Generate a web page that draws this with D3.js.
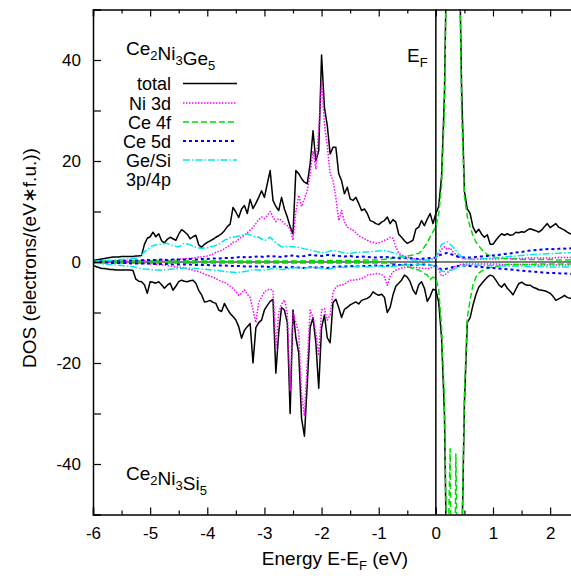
<!DOCTYPE html>
<html>
<head>
<meta charset="utf-8">
<script src="https://cdn.jsdelivr.net/npm/d3@7"></script>
<style>
  body { margin: 0; background: #fff; }
  svg { font-family: "Liberation Sans", Arial, sans-serif; }
</style>
</head>
<body>
<div id="chart"></div>
<script>
// energy grids (eV): fine 0.05 step for total / Ni 3d / Ce 4f, coarse 0.1 step for Ce 5d / Ge-Si p
const energyFine = d3.range(169).map(i => +(-6 + i * 0.05).toFixed(2));
const energyCoarse = d3.range(85).map(i => +(-6 + i * 0.1).toFixed(1));

// Ce2Ni3Ge5 (upper half)
const totalGe = [
  0.3,0.4,0.5,0.6,0.7,0.8,0.9,1.0,1.0,1.0,
  1.1,1.1,1.1,1.1,1.1,1.2,1.2,1.3,3.5,4.7,
  5.0,5.9,5.0,5.6,4.2,3.8,4.5,4.9,4.6,4.3,
  5.5,6.4,6.0,5.5,4.6,5.0,5.3,3.4,2.9,3.5,
  3.9,4.2,4.5,4.9,5.2,5.6,6.2,7.0,7.5,10.8,
  9.9,8.8,10.5,11.2,9.6,12.4,10.6,11.6,12.8,14.1,
  12.8,15.5,18.1,12.2,11.0,10.2,12.8,10.5,8.9,7.0,
  5.6,18.1,17.5,16.5,15.8,15.5,19.4,26.0,20.0,22.0,
  41.0,30.6,27.0,21.4,22.7,22.7,17.5,16.1,13.5,14.8,
  12.5,12.2,12.8,11.6,10.2,10.5,9.6,8.2,8.0,7.6,
  7.4,7.9,8.2,8.9,7.6,8.4,7.9,5.5,4.9,4.2,
  3.7,4.0,4.3,6.5,6.9,8.2,7.2,8.5,9.6,7.6,
  9.6,11.0,17.0,33.0,70,100,110,100,70,35,
  14.0,10.5,9.6,6.9,5.8,6.5,5.5,4.9,5.4,3.5,
  3.5,4.3,5.0,5.6,5.3,5.6,5.3,5.4,5.9,5.8,
  6.0,5.9,6.3,6.6,6.4,6.2,5.9,6.3,7.0,7.6,
  6.8,7.2,7.6,6.9,6.6,6.3,5.9,5.6,5.6
];
const ni3dGe = [
  0.0,0.0,0.1,0.1,0.1,0.1,0.1,0.1,0.1,0.1,
  0.2,0.2,0.2,0.2,0.2,0.2,0.3,0.3,0.3,0.3,
  0.3,0.3,0.4,0.3,0.4,0.4,0.3,0.4,0.5,0.4,
  0.5,0.6,0.6,0.7,0.7,0.8,0.9,1.0,1.0,1.1,
  1.2,1.4,1.6,1.9,2.1,2.3,2.6,3.0,3.4,3.9,
  4.0,4.5,5.0,5.2,5.8,6.3,6.9,7.6,8.4,8.9,
  8.6,9.2,10.0,8.9,8.0,8.6,8.2,7.6,7.2,6.5,
  4.3,10.0,13.2,11.0,12.5,14.1,17.5,22.0,18.5,26.0,
  35.8,27.3,23.0,17.5,16.1,12.8,8.2,10.2,8.0,6.9,
  6.6,6.3,5.8,5.2,4.9,4.6,4.3,4.0,3.9,3.7,
  3.8,4.0,4.3,4.5,4.9,4.7,3.0,1.7,1.4,1.2,
  1.0,0.8,0.7,0.5,0.5,0.5,0.4,0.4,0.5,0.6,
  0.8,1.5,2.5,3.0,2.5,2.8,2.0,1.5,1.0,0.8,
  0.7,0.6,0.6,0.6,0.6,0.6,0.6,0.6,0.6,0.6,
  0.6,0.6,0.6,0.7,0.7,0.7,0.7,0.7,0.7,0.7,
  0.7,0.7,0.8,0.8,0.8,0.8,0.8,0.8,0.8,0.8,
  0.8,0.8,0.9,0.9,0.9,0.9,0.9,0.9,0.9
];
const ce4fGe = [
  0.2,0.2,0.2,0.2,0.2,0.2,0.2,0.2,0.2,0.2,
  0.2,0.2,0.2,0.2,0.2,0.2,0.2,0.2,0.2,0.2,
  0.2,0.2,0.2,0.2,0.2,0.2,0.2,0.2,0.2,0.2,
  0.2,0.2,0.2,0.2,0.2,0.2,0.2,0.2,0.2,0.2,
  0.2,0.2,0.2,0.2,0.2,0.2,0.2,0.2,0.2,0.2,
  0.2,0.2,0.2,0.2,0.2,0.2,0.2,0.2,0.2,0.2,
  0.2,0.2,0.2,0.2,0.2,0.2,0.2,0.2,0.2,0.2,
  0.2,0.2,0.2,0.2,0.2,0.3,0.3,0.3,0.3,0.3,
  0.3,0.3,0.3,0.3,0.3,0.3,0.3,0.3,0.3,0.3,
  0.3,0.3,0.3,0.3,0.3,0.4,0.4,0.4,0.4,0.4,
  0.4,0.5,0.5,0.6,0.7,0.8,0.9,1.0,1.0,1.1,
  1.2,1.3,1.4,1.6,1.7,2.2,3.0,3.8,5.0,6.0,
  7.0,9.5,15.0,30.0,70,100,110,100,70,30,
  13.0,9.0,7.0,5.2,4.0,3.2,2.5,2.0,1.5,1.2,
  1.0,0.9,0.8,0.8,0.7,0.7,0.6,0.6,0.6,0.5,
  0.5,0.5,0.5,0.5,0.5,0.5,0.5,0.5,0.5,0.5,
  0.5,0.5,0.4,0.4,0.4,0.4,0.4,0.4,0.4
];
const ce5dGe = [
  0.1,0.1,0.2,0.2,0.2,0.2,0.3,0.3,0.3,0.4,
  0.4,0.4,0.5,0.4,0.5,0.5,0.5,0.6,0.5,0.6,
  0.6,0.7,0.7,0.8,0.8,0.9,1.0,0.9,1.0,1.1,
  1.0,1.2,1.1,1.0,1.2,1.3,1.1,1.2,1.4,1.3,
  1.2,1.4,1.3,1.2,1.1,1.2,1.0,1.1,1.0,0.9,
  0.9,1.0,0.9,0.8,0.7,0.8,0.7,0.6,0.7,0.8,
  0.9,1.5,1.8,1.4,1.0,0.9,0.9,1.0,1.1,1.2,
  1.3,1.4,1.6,1.7,1.9,2.0,2.2,2.3,2.4,2.5,
  2.6,2.5,2.7,2.6,2.8
];
const gepGe = [
  0.1,0.2,0.3,0.3,0.4,0.5,0.6,0.7,0.8,2.0,
  3.0,3.4,3.6,3.7,3.2,3.0,3.7,3.4,2.9,2.7,
  2.8,3.1,3.5,4.3,4.8,5.0,5.3,5.6,5.1,4.9,
  4.2,4.9,3.8,3.0,3.1,3.0,2.9,2.6,2.4,2.1,
  1.8,2.0,2.3,2.1,1.8,1.7,1.9,2.0,2.0,2.1,
  2.2,2.3,2.0,1.7,1.2,0.5,0.4,0.3,0.2,0.3,
  0.8,3.5,4.0,3.0,1.5,0.6,0.5,0.5,0.6,0.7,
  0.8,0.9,1.0,1.1,1.2,1.3,1.4,1.5,1.5,1.6,
  1.7,1.7,1.8,1.8,1.9
];

// Ce2Ni3Si5 (lower half, plotted negative)
const totalSi = [
  -0.7,-0.9,-1.1,-1.3,-1.3,-1.4,-1.5,-1.5,-1.6,-1.6,
  -1.6,-1.6,-1.6,-1.6,-1.7,-3.4,-3.8,-3.9,-4.5,-6.2,
  -3.9,-4.0,-4.2,-3.9,-4.5,-5.2,-4.6,-4.2,-5.6,-4.8,
  -3.9,-3.6,-3.8,-3.9,-3.7,-3.6,-4.2,-5.6,-6.5,-7.9,
  -7.8,-7.6,-8.0,-8.2,-9.5,-9.8,-8.2,-9.3,-10.2,-10.8,
  -11.5,-12.8,-15.1,-13.5,-12.8,-12.2,-20.0,-13.0,-12.0,-11.5,
  -9.5,-8.6,-7.8,-7.4,-22.0,-14.0,-9.0,-9.5,-12.0,-30.0,
  -9.5,-15.0,-18.0,-31.0,-34.5,-24.0,-13.0,-11.0,-16.0,-25.0,
  -13.0,-10.5,-15.0,-16.0,-8.0,-7.4,-9.0,-11.0,-9.4,-9.0,
  -8.5,-8.2,-7.9,-8.3,-7.6,-7.4,-7.2,-6.8,-5.9,-6.3,
  -6.6,-6.4,-7.0,-10.0,-9.0,-6.5,-4.8,-4.2,-3.6,-2.6,
  -3.0,-3.9,-5.5,-6.4,-4.5,-3.9,-5.2,-7.8,-6.8,-5.4,
  -5.6,-8.0,-15.0,-30.0,-70,-100,-110,-100,-80,-60,
  -28.0,-12.0,-11.0,-8.5,-6.5,-5.0,-4.3,-3.6,-3.0,-2.6,
  -2.8,-3.6,-4.5,-5.0,-4.3,-5.2,-5.8,-6.5,-5.4,-4.3,
  -4.0,-4.4,-4.6,-4.6,-5.0,-5.2,-5.5,-5.6,-5.7,-5.9,
  -6.2,-6.8,-7.6,-7.3,-7.0,-6.6,-7.0,-7.2,-7.2
];
const ni3dSi = [
  0.0,0.0,-0.1,-0.1,-0.1,-0.1,-0.1,-0.1,-0.1,-0.1,
  -0.2,-0.2,-0.2,-0.2,-0.2,-0.2,-0.3,-0.3,-0.3,-0.3,
  -0.4,-0.4,-0.5,-0.5,-0.6,-0.6,-0.7,-0.8,-0.9,-1.0,
  -1.0,-1.1,-1.2,-1.4,-1.5,-1.6,-1.8,-1.9,-2.1,-2.4,
  -2.6,-2.8,-3.0,-3.3,-3.6,-3.9,-4.0,-4.4,-4.8,-5.2,
  -5.9,-6.6,-6.2,-5.5,-6.4,-7.0,-9.5,-12.0,-7.9,-7.0,
  -5.9,-5.5,-5.4,-5.6,-17.0,-10.0,-8.3,-7.5,-10.0,-25.5,
  -10.0,-12.0,-14.0,-26.3,-30.5,-20.0,-9.5,-11.0,-14.0,-18.5,
  -9.5,-9.2,-11.5,-10.5,-6.0,-5.0,-4.6,-4.6,-4.4,-4.0,
  -3.6,-3.6,-3.5,-3.4,-3.3,-3.0,-2.6,-2.5,-2.4,-2.3,
  -2.3,-2.5,-3.0,-4.6,-2.8,-2.0,-1.6,-1.4,-1.2,-1.1,
  -1.0,-1.0,-1.1,-1.1,-1.2,-1.2,-1.3,-1.3,-1.2,-1.0,
  -0.8,-1.5,-2.8,-2.6,-2.2,-1.6,-1.1,-0.8,-0.6,-0.5,
  -0.4,-0.4,-0.4,-0.4,-0.4,-0.4,-0.4,-0.4,-0.4,-0.4,
  -0.4,-0.4,-0.4,-0.5,-0.5,-0.5,-0.5,-0.5,-0.5,-0.5,
  -0.5,-0.5,-0.5,-0.5,-0.5,-0.6,-0.6,-0.6,-0.6,-0.6,
  -0.6,-0.6,-0.6,-0.6,-0.6,-0.6,-0.6,-0.6,-0.6
];
const ce4fSi = [
  -0.2,-0.2,-0.2,-0.2,-0.2,-0.2,-0.2,-0.2,-0.2,-0.2,
  -0.2,-0.2,-0.2,-0.2,-0.2,-0.2,-0.2,-0.2,-0.2,-0.2,
  -0.2,-0.2,-0.2,-0.2,-0.2,-0.2,-0.2,-0.2,-0.2,-0.2,
  -0.2,-0.2,-0.2,-0.2,-0.2,-0.2,-0.2,-0.2,-0.2,-0.2,
  -0.2,-0.2,-0.2,-0.2,-0.2,-0.2,-0.2,-0.2,-0.2,-0.2,
  -0.2,-0.2,-0.2,-0.2,-0.2,-0.2,-0.2,-0.2,-0.2,-0.2,
  -0.2,-0.2,-0.2,-0.2,-0.2,-0.2,-0.2,-0.2,-0.2,-0.2,
  -0.2,-0.2,-0.2,-0.2,-0.2,-0.2,-0.2,-0.2,-0.2,-0.2,
  -0.2,-0.2,-0.2,-0.2,-0.2,-0.2,-0.2,-0.2,-0.2,-0.2,
  -0.2,-0.2,-0.2,-0.2,-0.2,-0.2,-0.2,-0.2,-0.2,-0.2,
  -0.2,-0.2,-0.2,-0.2,-0.3,-0.3,-0.4,-0.5,-0.6,-0.7,
  -0.9,-1.1,-1.3,-1.5,-1.6,-1.9,-2.3,-2.6,-3.5,-3.0,
  -3.2,-5.5,-13.0,-27.0,-65,-37,-110,-38,-80,-58,
  -26.0,-11.0,-7.5,-4.5,-3.0,-2.2,-1.8,-1.5,-1.3,-1.1,
  -1.0,-0.9,-0.8,-0.7,-0.6,-0.5,-0.5,-0.5,-0.5,-0.5,
  -0.5,-0.5,-0.5,-0.5,-0.5,-0.4,-0.4,-0.4,-0.4,-0.4,
  -0.4,-0.4,-0.4,-0.4,-0.4,-0.4,-0.4,-0.4,-0.4
];
const ce5dSi = [
  -0.1,-0.1,-0.1,-0.2,-0.2,-0.2,-0.2,-0.3,-0.3,-0.3,
  -0.3,-0.4,-0.4,-0.4,-0.5,-0.5,-0.5,-0.5,-0.6,-0.6,
  -0.6,-0.7,-0.7,-0.7,-0.8,-0.8,-0.8,-0.9,-0.9,-0.9,
  -0.9,-1.0,-0.9,-1.0,-1.1,-1.0,-1.1,-1.2,-1.0,-1.1,
  -1.0,-1.2,-1.0,-0.9,-0.9,-0.8,-0.9,-0.8,-0.8,-0.7,
  -0.7,-0.8,-0.7,-0.6,-0.6,-0.5,-0.6,-0.5,-0.5,-0.6,
  -0.8,-1.5,-1.3,-1.0,-0.8,-0.7,-0.8,-0.9,-1.0,-1.1,
  -1.2,-1.3,-1.4,-1.5,-1.6,-1.7,-1.8,-1.9,-2.0,-2.1,
  -2.2,-2.2,-2.3,-2.3,-2.4
];
const sipSi = [
  -0.2,-0.3,-0.4,-0.5,-0.6,-0.7,-0.8,-0.9,-1.2,-1.4,
  -1.5,-1.6,-1.6,-1.5,-1.4,-1.3,-1.2,-1.2,-1.3,-1.4,
  -1.5,-1.6,-1.7,-1.9,-2.0,-2.1,-2.0,-1.8,-1.5,-1.6,
  -1.6,-1.4,-1.3,-1.5,-1.4,-1.2,-1.1,-1.3,-1.0,-1.1,
  -1.2,-1.5,-1.2,-1.0,-1.1,-1.0,-0.9,-0.9,-1.0,-0.9,
  -0.8,-1.0,-0.9,-0.8,-0.7,-0.6,-0.5,-0.5,-0.5,-0.6,
  -0.8,-1.8,-2.0,-1.5,-1.0,-0.7,-0.6,-0.6,-0.7,-0.7,
  -0.7,-0.7,-0.8,-0.8,-0.8,-0.8,-0.9,-0.9,-0.9,-0.9,
  -1.0,-1.0,-1.0,-1.0,-1.0
];

const legendLabels = ["total", "Ni 3d", "Ce 4f", "Ce 5d", "Ge/Si"];
const xTicks = [-6, -5, -4, -3, -2, -1, 0, 1, 2];
const yTicks = [-40, -20, 0, 20, 40];

const size = { width: 571, height: 576, left: 93, right: 573, top: 9.5, bottom: 514.5 };

const styles = [
  { color: "#000000", dash: null, width: 1.5 },
  { color: "#ff00ff", dash: "1.5,1.5", width: 1.5 },
  { color: "#00dd00", dash: "6,3", width: 1.5 },
  { color: "#0000ff", dash: "3,3", width: 2 },
  { color: "#00e8e8", dash: "7,2,1.5,2", width: 1.5 }
];

const x = d3.scaleLinear().domain([-6, 2.4]).range([size.left, size.right]);
const y = d3.scaleLinear().domain([-50, 50]).range([size.bottom, size.top]);

const svg = d3.select("#chart").append("svg")
  .attr("width", size.width)
  .attr("height", size.height);

svg.append("clipPath").attr("id", "plot-clip")
  .append("rect")
  .attr("x", size.left).attr("y", size.top)
  .attr("width", size.right - size.left).attr("height", size.bottom - size.top);

const plot = svg.append("g").attr("clip-path", "url(#plot-clip)");

// zero line and Fermi level
plot.append("line")
  .attr("x1", size.left).attr("x2", size.right)
  .attr("y1", y(0)).attr("y2", y(0))
  .attr("stroke", "#000").attr("stroke-width", 1.2);
plot.append("line")
  .attr("x1", x(0)).attr("x2", x(0))
  .attr("y1", size.top).attr("y2", size.bottom)
  .attr("stroke", "#000").attr("stroke-width", 1.5);

function drawCurve(energies, values, style) {
  const line = d3.line()
    .x((d, i) => x(energies[i]))
    .y(d => y(d));
  plot.append("path")
    .datum(values)
    .attr("d", line)
    .attr("fill", "none")
    .attr("stroke", style.color)
    .attr("stroke-width", style.width)
    .attr("stroke-dasharray", style.dash)
    .attr("stroke-linejoin", "round");
}

const series = [
  [energyFine, totalGe], [energyFine, ni3dGe], [energyFine, ce4fGe], [energyCoarse, ce5dGe], [energyCoarse, gepGe]
];
const seriesSi = [
  [energyFine, totalSi], [energyFine, ni3dSi], [energyFine, ce4fSi], [energyCoarse, ce5dSi], [energyCoarse, sipSi]
];
series.forEach(([e, v], i) => drawCurve(e, v, styles[i]));
seriesSi.forEach(([e, v], i) => drawCurve(e, v, styles[i]));

// axes
const tickFont = "17px";
const xMinor = d3.range(-5.5, 2.5, 1);
const yMinor = [-30, -10, 10, 30];

svg.append("g")
  .attr("transform", `translate(0, ${size.bottom})`)
  .call(d3.axisBottom(x).tickValues(xTicks).tickSize(-7).tickPadding(12).tickFormat(d3.format("d")))
  .call(g => g.select(".domain").attr("stroke-width", 1.5))
  .call(g => g.selectAll("line").attr("stroke-width", 1.2))
  .call(g => g.selectAll("text").attr("font-size", tickFont).attr("fill", "#000")
    .text(d => d < 0 ? "-" + Math.abs(d) : d));
svg.append("g")
  .attr("transform", `translate(0, ${size.bottom})`)
  .call(d3.axisBottom(x).tickValues(xMinor).tickSize(-4).tickFormat(""))
  .call(g => g.select(".domain").remove())
  .call(g => g.selectAll("line").attr("stroke-width", 1.2));

svg.append("g")
  .attr("transform", `translate(0, ${size.top})`)
  .call(d3.axisTop(x).tickValues(xTicks).tickSize(-7).tickFormat(""))
  .call(g => g.select(".domain").attr("stroke-width", 1.5))
  .call(g => g.selectAll("line").attr("stroke-width", 1.2));
svg.append("g")
  .attr("transform", `translate(0, ${size.top})`)
  .call(d3.axisTop(x).tickValues(xMinor).tickSize(-4).tickFormat(""))
  .call(g => g.select(".domain").remove())
  .call(g => g.selectAll("line").attr("stroke-width", 1.2));

svg.append("g")
  .attr("transform", `translate(${size.left}, 0)`)
  .call(d3.axisLeft(y).tickValues(yTicks).tickSize(-8).tickPadding(12).tickFormat(d => d < 0 ? "-" + Math.abs(d) : d))
  .call(g => g.select(".domain").attr("stroke-width", 1.5))
  .call(g => g.selectAll("line").attr("stroke-width", 1.2))
  .call(g => g.selectAll("text").attr("font-size", tickFont).attr("fill", "#000"));
svg.append("g")
  .attr("transform", `translate(${size.left}, 0)`)
  .call(d3.axisLeft(y).tickValues(yMinor).tickSize(-8).tickFormat(""))
  .call(g => g.select(".domain").remove())
  .call(g => g.selectAll("line").attr("stroke-width", 1.2));

// axis titles
const xTitle = svg.append("text")
  .attr("x", 335).attr("y", 565)
  .attr("text-anchor", "middle").attr("font-size", "19px");
xTitle.append("tspan").text("Energy E-E");
xTitle.append("tspan").attr("font-size", "13px").attr("dy", 5).text("F");
xTitle.append("tspan").attr("dy", -5).text(" (eV)");

svg.append("text")
  .attr("transform", `translate(36, 258) rotate(-90)`)
  .attr("text-anchor", "middle").attr("font-size", "19px")
  .text("DOS (electrons/(eV\u2217f.u.))");

// formula labels
function formula(xPos, yPos, parts) {
  const t = svg.append("text").attr("x", xPos).attr("y", yPos).attr("font-size", "19px");
  parts.forEach(([s, sub]) => {
    if (sub) {
      t.append("tspan").text(s);
      t.append("tspan").attr("font-size", "13px").attr("dy", 5).text(sub);
      t.append("tspan").attr("dy", -5).text("");
    } else {
      t.append("tspan").text(s);
    }
  });
}
formula(126, 55, [["Ce", "2"], ["Ni", "3"], ["Ge", "5"]]);
formula(126, 480, [["Ce", "2"], ["Ni", "3"], ["Si", "5"]]);

const ef = svg.append("text").attr("x", 407).attr("y", 62).attr("font-size", "19px");
ef.append("tspan").text("E");
ef.append("tspan").attr("font-size", "13px").attr("dy", 5).text("F");

// legend
const legendY = [90, 109.5, 128.5, 147.5, 166.5];
legendLabels.forEach((label, i) => {
  svg.append("text")
    .attr("x", 171).attr("y", legendY[i])
    .attr("text-anchor", "end").attr("font-size", "18px")
    .text(label);
  svg.append("line")
    .attr("x1", 183).attr("x2", 237)
    .attr("y1", legendY[i] - 6.5).attr("y2", legendY[i] - 6.5)
    .attr("stroke", styles[i].color)
    .attr("stroke-width", styles[i].width)
    .attr("stroke-dasharray", styles[i].dash);
});
svg.append("text")
  .attr("x", 171).attr("y", 185.5)
  .attr("text-anchor", "end").attr("font-size", "18px")
  .text("3p/4p");
</script>
</body>
</html>
